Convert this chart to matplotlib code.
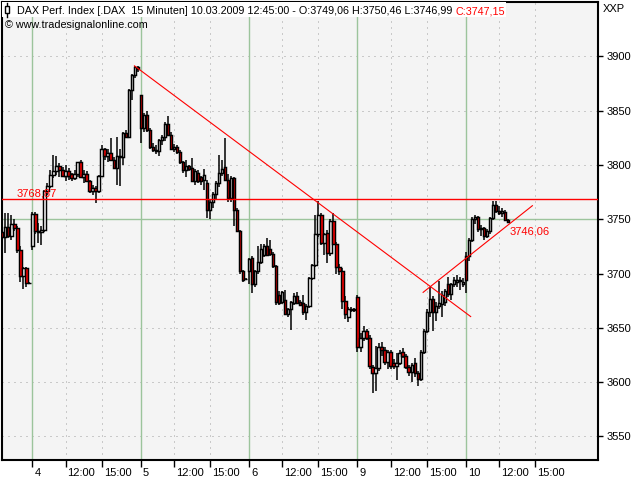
import matplotlib
matplotlib.use('Agg')
import matplotlib.pyplot as plt
import matplotlib.transforms as mtransforms
from matplotlib.patches import Rectangle
from matplotlib.lines import Line2D

plt.rcParams['font.family'] = ['Liberation Sans', 'DejaVu Sans']

# ---------------- data ----------------
# bar index 0 = first 15-minute bar of 04.03.2009; negative indices = end of 03.03.2009
first_index = -10
opens = [
    3738, 3734, 3743, 3735, 3746, 3742, 3722, 3698, 3705, 3691,
    # 4 March
    3725, 3755, 3739, 3738, 3740, 3776, 3781, 3791, 3794, 3799, 3795, 3790, 3794, 3792, 3788, 3792, 3803, 3789,
    3792, 3785, 3776, 3779, 3776, 3790, 3815, 3808, 3811, 3805, 3797, 3808, 3807, 3829, 3826, 3869, 3883, 3890,
    # 5 March
    3864, 3834, 3846, 3832, 3817, 3814, 3813, 3823, 3826, 3838, 3828, 3815, 3817, 3812, 3803, 3795, 3799, 3797,
    3785, 3793, 3789, 3786, 3783, 3759, 3766, 3773, 3783, 3793, 3798, 3786, 3770, 3788, 3759, 3739, 3702, 3695,
    # 6 March
    3702, 3714, 3690, 3702, 3711, 3717, 3725, 3723, 3718, 3707, 3680, 3674, 3676, 3663, 3667, 3673, 3679, 3674,
    3673, 3665, 3670, 3696, 3708, 3736, 3754, 3728, 3737, 3719, 3748, 3727, 3706, 3702, 3675, 3660, 3667, 3666,
    # 9 March
    3678, 3632, 3641, 3647, 3641, 3614, 3608, 3613, 3632, 3630, 3619, 3628, 3618, 3615, 3618, 3628, 3624, 3614,
    3609, 3618, 3608, 3603, 3628, 3647, 3665, 3677, 3665, 3670, 3672, 3674, 3690, 3681, 3690, 3692, 3694, 3690,
    # 10 March
    3716, 3716, 3731, 3750, 3752, 3741, 3742, 3735, 3739, 3751, 3763, 3758, 3756, 3757, 3749.06,
]
highs = [
    3748, 3756, 3756, 3754, 3750, 3744, 3725, 3706, 3706, 3692,
    3757, 3757, 3747, 3744, 3777, 3783, 3795, 3809, 3808, 3802, 3798, 3800, 3797, 3793, 3795, 3803, 3805, 3795,
    3794, 3786, 3782, 3781, 3791, 3818, 3816, 3815, 3825, 3807, 3826, 3815, 3830, 3832, 3870, 3884, 3891, 3891,
    3864, 3848, 3850, 3834, 3820, 3818, 3824, 3828, 3840, 3845, 3830, 3819, 3818, 3814, 3804, 3805, 3800, 3806,
    3796, 3795, 3790, 3796, 3786, 3768, 3775, 3785, 3809, 3805, 3825, 3792, 3790, 3789, 3760, 3740, 3703, 3696,
    3714, 3716, 3703, 3725, 3727, 3727, 3733, 3731, 3720, 3708, 3684, 3684, 3685, 3668, 3675, 3682, 3683, 3676,
    3680, 3672, 3697, 3709, 3754, 3767, 3756, 3737, 3740, 3750, 3756, 3729, 3709, 3705, 3679, 3669, 3669, 3668,
    3680, 3645, 3652, 3649, 3643, 3616, 3633, 3636, 3637, 3632, 3630, 3630, 3621, 3627, 3630, 3631, 3626, 3616,
    3618, 3622, 3610, 3630, 3649, 3667, 3688, 3679, 3674, 3693, 3684, 3686, 3697, 3691, 3697, 3699, 3697, 3696,
    3720, 3733, 3752, 3754, 3753, 3745, 3743, 3741, 3752, 3767, 3767, 3762, 3760, 3759, 3750.46,
]
lows = [
    3728, 3719, 3733, 3731, 3739, 3719, 3692, 3686, 3688, 3690,
    3722, 3736, 3728, 3726, 3738, 3772, 3779, 3788, 3791, 3789, 3789, 3785, 3786, 3785, 3786, 3789, 3789, 3783,
    3784, 3774, 3772, 3765, 3774, 3789, 3805, 3803, 3804, 3796, 3782, 3781, 3800, 3826, 3825, 3860, 3880, 3886,
    3820, 3830, 3830, 3815, 3812, 3810, 3808, 3818, 3822, 3827, 3814, 3812, 3810, 3801, 3793, 3789, 3794, 3784,
    3782, 3783, 3782, 3777, 3751, 3750, 3760, 3769, 3780, 3790, 3785, 3766, 3766, 3744, 3738, 3700, 3692, 3694,
    3690, 3682, 3688, 3700, 3709, 3715, 3716, 3716, 3705, 3671, 3671, 3672, 3662, 3660, 3648, 3671, 3672, 3670,
    3662, 3657, 3668, 3694, 3706, 3734, 3726, 3717, 3710, 3716, 3726, 3700, 3699, 3667, 3658, 3655, 3665, 3665,
    3628, 3628, 3638, 3639, 3612, 3590, 3592, 3610, 3624, 3616, 3612, 3612, 3612, 3602, 3616, 3622, 3612, 3606,
    3600, 3605, 3596, 3601, 3626, 3645, 3660, 3647, 3656, 3667, 3660, 3670, 3678, 3676, 3688, 3688, 3685, 3688,
    3682, 3712, 3729, 3746, 3738, 3735, 3731, 3733, 3736, 3749, 3756, 3754, 3752, 3748, 3746.99,
]
closes = [
    3734, 3743, 3735, 3746, 3742, 3722, 3698, 3705, 3691, 3691,
    3755, 3739, 3738, 3740, 3776, 3781, 3791, 3794, 3799, 3795, 3790, 3794, 3790, 3788, 3792, 3803, 3789, 3792,
    3785, 3776, 3779, 3776, 3790, 3815, 3808, 3811, 3805, 3797, 3808, 3807, 3829, 3826, 3869, 3883, 3890, 3888,
    3834, 3846, 3832, 3817, 3814, 3813, 3823, 3826, 3838, 3828, 3815, 3817, 3812, 3803, 3795, 3799, 3796, 3785,
    3794, 3785, 3785, 3791, 3759, 3766, 3773, 3783, 3793, 3796, 3786, 3770, 3788, 3759, 3739, 3702, 3694, 3695,
    3713, 3690, 3702, 3711, 3723, 3725, 3717, 3718, 3707, 3674, 3673, 3683, 3663, 3667, 3674, 3679, 3673, 3671,
    3665, 3670, 3696, 3708, 3736, 3754, 3728, 3736, 3719, 3748, 3727, 3706, 3702, 3675, 3663, 3667, 3666, 3667,
    3632, 3641, 3647, 3641, 3615, 3608, 3613, 3632, 3630, 3619, 3628, 3615, 3615, 3618, 3627, 3624, 3614, 3609,
    3616, 3608, 3603, 3628, 3647, 3665, 3677, 3665, 3670, 3673, 3680, 3684, 3681, 3690, 3694, 3694, 3693, 3692,
    3694, 3731, 3750, 3752, 3741, 3742, 3735, 3739, 3751, 3763, 3758, 3756, 3758, 3749, 3747.15,
]

day_labels = ['4', '5', '6', '9', '10']
day_starts = [0, 36, 72, 108, 144]
time_labels = ['12:00', '15:00']
time_offsets = [11, 23]
y_ticks = [3550, 3600, 3650, 3700, 3750, 3800, 3850, 3900]
major_y = 3750
hline_value = 3768.87
hline_label = '3768,87'
trend_down_x = [33.9, 145.6]
trend_down_y = [3891.3, 3660.4]
trend_up_x = [129.8, 166.1]
trend_up_y = [3682.7, 3762.5]
trend_label = '3746,06'
title_black = 'DAX Perf. Index [.DAX  15 Minuten] 10.03.2009 12:45:00 - O:3749,06 H:3750,46 L:3746,99'
title_red = 'C:3747,15'
watermark = '\u00a9 www.tradesignalonline.com'
corner = 'XXP'

# ---------------- figure ----------------
W, H = 640, 480
fig = plt.figure(figsize=(6.4, 4.8), dpi=100)
fig.patch.set_facecolor('white')

def fx(px):
    return px / W

def fy(py):
    return 1 - py / H

ax = fig.add_axes([fx(2), fy(460), fx(598) - fx(2), fy(2) - fy(460)])
ax.set_facecolor('#f4f4f4')
ax.set_xlim(-10.1, 187.9)
ax.set_ylim(3528.3, 3950.1)

GREEN = '#9cc49c'
GRAY = '#a0a0a0'
RED = '#ff0000'
PX = 0.72  # one pixel in points

# grid
for v in y_ticks:
    if v == major_y:
        ax.axhline(v, color=GREEN, lw=1.0, zorder=1)
    else:
        ax.axhline(v, color=GRAY, lw=PX, ls=(0, (1, 5)), zorder=1)
for ds in day_starts:
    ax.axvline(ds, color=GREEN, lw=1.0, zorder=1)
    for off in time_offsets:
        ax.axvline(ds + off, color=GRAY, lw=PX, ls=(0, (1, 5)), zorder=1)

# candles
xs = list(range(first_index, first_index + len(closes)))
ax.vlines(xs, lows, highs, color='black', lw=1.1, zorder=3)
bottoms = [min(o, c) for o, c in zip(opens, closes)]
heights = [abs(c - o) for o, c in zip(opens, closes)]
colors = ['white' if c >= o else RED for o, c in zip(opens, closes)]
ax.bar(xs, heights, bottom=bottoms, width=0.78, color=colors,
       edgecolor='black', linewidth=1.05, zorder=4)

# red lines
ax.axhline(hline_value, color=RED, lw=1.0, zorder=5)
ax.plot(trend_down_x, trend_down_y, color=RED, lw=0.8, zorder=5)
ax.plot(trend_up_x, trend_up_y, color=RED, lw=0.8, zorder=5)

FS = 8
lbl_tr = mtransforms.offset_copy(ax.transData, fig=fig, x=0, y=2, units='dots')
ax.text(first_index + 4.9, hline_value, hline_label, color=RED, fontsize=FS,
        ha='left', va='baseline', transform=lbl_tr, zorder=6)
lbl_tr2 = mtransforms.offset_copy(ax.transData, fig=fig, x=2, y=-3, units='dots')
ax.text(xs[-1], 3746.06, trend_label, color=RED, fontsize=FS,
        ha='left', va='top', transform=lbl_tr2, zorder=6)

# axes frame
for s in ax.spines.values():
    s.set_linewidth(1.5)
    s.set_color('black')

# y axis on right
ax.yaxis.tick_right()
ax.set_yticks(y_ticks)
ax.set_yticklabels([str(v) for v in y_ticks], fontsize=FS)
ax.tick_params(axis='y', length=3.5, width=1, pad=2.5, direction='out', colors='black')

# x ticks
xt, xl = [], []
for ds, dl in zip(day_starts, day_labels):
    xt.append(ds); xl.append(dl)
    for off, tl in zip(time_offsets, time_labels):
        xt.append(ds + off); xl.append(tl)
ax.set_xticks(xt)
ax.set_xticklabels([''] * len(xt))
ax.tick_params(axis='x', length=5, width=1, direction='out', colors='black')
xlab_tr = mtransforms.blended_transform_factory(ax.transData, fig.transFigure)
xlab_tr = mtransforms.offset_copy(xlab_tr, fig=fig, x=2, y=0, units='dots')
for t, l in zip(xt, xl):
    ax.text(t, fy(472.5), l, fontsize=FS, ha='left', va='center',
            transform=xlab_tr, clip_on=False)

# header: fit title text width to the reference span
fig.canvas.draw()
renderer = fig.canvas.get_renderer()
tb = fig.text(fx(17), fy(11), title_black, fontsize=FS, ha='left', va='center', zorder=11)
w0 = tb.get_window_extent(renderer=renderer).width
tfs = FS * 433.0 / w0
tb.set_fontsize(tfs)
bb = tb.get_window_extent(renderer=renderer)
tr = fig.text(bb.x1 / W + fx(3), fy(11), title_red, color=RED, fontsize=tfs,
              ha='left', va='center', zorder=11)
bb2 = tr.get_window_extent(renderer=renderer)
fig.patches.append(Rectangle((fx(2), fy(17)), bb2.x1 / W + fx(1) - fx(2), fy(2) - fy(17),
                             transform=fig.transFigure, facecolor='white',
                             edgecolor='none', zorder=10))
# small candle icon
fig.lines.append(Line2D([fx(7), fx(7)], [fy(3), fy(17)], color='black', lw=1,
                        transform=fig.transFigure, zorder=12))
fig.patches.append(Rectangle((fx(5), fy(13)), fx(4), fy(6) - fy(13),
                             transform=fig.transFigure, facecolor='white',
                             edgecolor='black', lw=1, zorder=13))
fig.text(fx(5), fy(25), watermark, fontsize=tfs, ha='left', va='center', zorder=11)
fig.text(fx(603), fy(9), corner, fontsize=FS, ha='left', va='center')

fig.savefig('out.png', dpi=100)
